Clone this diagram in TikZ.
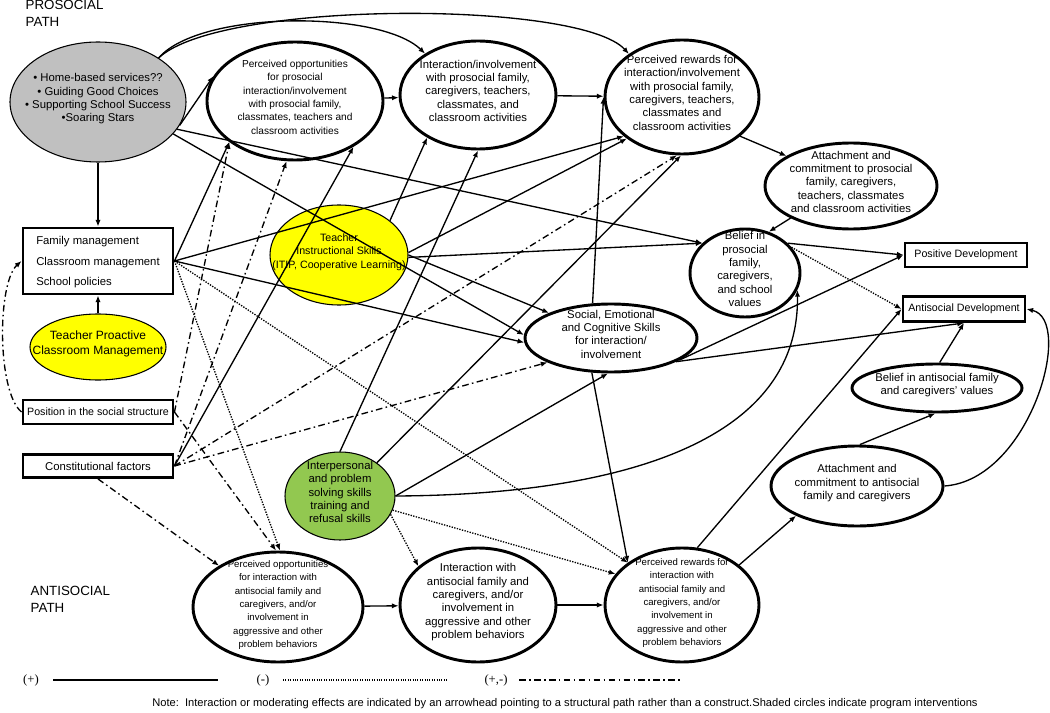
\documentclass[tikz,border=0pt]{standalone}
\usepackage{fontspec}
\setmainfont{Liberation Sans}
\newfontfamily\legendserif{Liberation Serif}
\usetikzlibrary{positioning,shapes.geometric,arrows.meta}
\definecolor{progray}{RGB}{192,192,192}
\definecolor{teachyellow}{RGB}{255,255,0}
\definecolor{skillgreen}{RGB}{146,200,80}
% text that does not widen the ellipse
\newcommand{\elltext}[1]{\raisebox{0pt}[0pt][0pt]{\makebox[0pt]{\begin{tabular}{@{}c@{}}#1\end{tabular}}}}

\begin{document}
\begin{tikzpicture}[x=0.75pt,y=-0.75pt,
  wh/.style 2 args={minimum width=#1*0.75pt,minimum height=#2*0.75pt},
  construct/.style={ellipse,draw,fill=white,line width=2.2pt,inner sep=0pt,font=\fontsize{8.5}{10}\selectfont},
  program/.style={ellipse,draw,line width=0.8pt,inner sep=0pt,font=\fontsize{8.5}{10}\selectfont},
  factor/.style={rectangle,draw,fill=white,line width=2.2pt,inner sep=0pt,font=\fontsize{8.5}{10}\selectfont},
  narrowtext/.style={font=\fontsize{7.2}{10}\selectfont},
  posline/.style={-{Latex[length=5pt,width=4pt]},line width=1pt},
  negline/.style={posline,densely dotted},
  mixline/.style={posline,dash pattern=on 5pt off 2.5pt on 1.2pt off 2.5pt},
]
\useasboundingbox (0,0) rectangle (1050,713);

% path labels
\node[anchor=base west,align=left,font=\fontsize{10}{12.75}\selectfont] (prolabel) at (21,27) {PROSOCIAL\\PATH};
\node[anchor=base west,align=left,font=\fontsize{10}{12.75}\selectfont] (antilabel) at (26,612) {ANTISOCIAL\\PATH};

% interventions
\node[program,fill=progray,wh={176}{120}] (prog) at (98,102) {\elltext{\textbullet\ Home-based services??\\\textbullet\ Guiding Good Choices\\\textbullet\ Supporting School Success\\\textbullet Soaring Stars}};
\node[program,fill=teachyellow,wh={138}{100},font=\fontsize{8}{10}\selectfont] (tis) at (339,255) {\elltext{Teacher\\Instructional Skills\\(ITIP, Cooperative Learning)}};
\node[program,fill=teachyellow,wh={136}{66},font=\fontsize{9}{11}\selectfont] (tpcm) at (98,347) {\elltext{Teacher Proactive\\Classroom Management}};
\node[program,fill=skillgreen,wh={110}{88}] (ips) at (340,496) {\elltext{Interpersonal\\and problem\\solving skills\\training and\\refusal skills}};

% external factors
\node[factor,wh={150}{66},font=\fontsize{8.5}{15.5}\selectfont] (fam) at (98,261) {\begin{tabular}{@{}l@{}}Family management\\Classroom management\\School policies\end{tabular}};
\node[factor,wh={150}{24},font=\fontsize{8}{10}\selectfont] (socpos) at (98,412) {Position in the social structure};
\node[factor,wh={150}{23}] (constf) at (98,466) {Constitutional factors};

% prosocial path
\node[construct,wh={176}{118},font=\fontsize{7.6}{10}\selectfont] (popp) at (295,101) {\elltext{Perceived opportunities\\for prosocial\\interaction/involvement\\with prosocial family,\\classmates, teachers and\\classroom activities}};
\node[construct,wh={156}{108}] (inter) at (478,95) {\elltext{Interaction/involvement\\with prosocial family,\\caregivers, teachers,\\classmates, and\\classroom activities}};
\node[construct,wh={154}{114}] (rew) at (682,97) {\elltext{Perceived rewards for\\interaction/involvement\\with prosocial family,\\caregivers, teachers,\\classmates and\\classroom activities}};
\node[construct,wh={172}{86}] (attach) at (851,186) {\elltext{Attachment and\\commitment to prosocial\\family, caregivers,\\teachers, classmates\\and classroom activities}};
\node[construct,wh={110}{88}] (belief) at (745,273) {\elltext{Belief in\\prosocial\\family,\\caregivers,\\and school\\values}};
\node[construct,wh={172}{68}] (sec) at (611,338) {\elltext{Social, Emotional\\and Cognitive Skills\\for interaction/\\involvement}};

% outcomes
\node[factor,wh={122}{24},font=\fontsize{8}{10}\selectfont] (posdev) at (966,255) {Positive Development};
\node[factor,wh={122}{25},font=\fontsize{8}{10}\selectfont] (antidev) at (964,309) {Antisocial Development};

% antisocial path
\node[construct,wh={170}{110},narrowtext] (oppanti) at (278,607) {\elltext{Perceived opportunities\\for interaction with\\antisocial family and\\caregivers, and/or\\involvement in\\aggressive and other\\problem behaviors}};
\node[construct,wh={156}{114}] (intanti) at (478,605) {\elltext{Interaction with\\antisocial family and\\caregivers, and/or\\involvement in\\aggressive and other\\problem behaviors}};
\node[construct,wh={154}{114},narrowtext] (rewanti) at (682,605) {\elltext{Perceived rewards for\\interaction with\\antisocial family and\\caregivers, and/or\\involvement in\\aggressive and other\\problem behaviors}};
\node[construct,wh={172}{80}] (attanti) at (857,486) {\elltext{Attachment and\\commitment to antisocial\\family and caregivers}};
\node[construct,wh={170}{48}] (belanti) at (937,388) {\elltext{Belief in antisocial family\\and caregivers’ values}};

% program effects
\draw[posline] (prog.south) -- (fam.north);
\draw[posline] (prog.-16) -- (popp.163);
\draw[posline] (prog.36) .. controls (200,10) and (380,10) .. (inter.142);
\draw[posline] (prog.36) .. controls (220,0) and (580,0) .. (rew.141);
\draw[posline] (prog.-19) -- (belief.145);
\draw[posline] (prog.-23) -- (sec.178);
\draw[posline] (tpcm) -- (fam);

% external factors
\draw[posline] (fam.east) -- (popp.212);
\draw[posline] (fam.east) -- (rew.214);
\draw[posline] (fam.east) -- (sec.183);
\draw[negline] (fam.east) -- (oppanti.88);
\draw[negline] (fam.east) -- (rewanti.142);
\draw[mixline] (socpos.west) .. controls (-3,392) and (-3,283) .. (fam.west);
\draw[mixline] (socpos.east) -- (popp.212);
\draw[mixline] (socpos.east) -- (oppanti.92);
\draw[mixline] (constf.east) -- (popp.262);
\draw[posline] (constf.east) -- (popp.-38);
\draw[mixline] (constf.south) -- (oppanti.145);
\draw[mixline] (constf.east) -- (sec.201);
\draw[mixline] (constf.east) -- (rew.265);

% teacher instructional skills
\draw[posline] (tis.34) -- (inter.220);
\draw[posline] (tis.2) -- (rew.217);
\draw[posline] (tis.0) -- (sec.158);
\draw[posline] (tis.-2) -- (belief.145);

% interpersonal skills
\draw[posline] (ips.north) -- (inter.south);
\draw[posline] (ips.42) -- (rew.269);
\draw[posline] (ips.east) -- (sec.265);
\draw[posline] (ips.east) .. controls (600,495) and (800,450) .. (belief.-18);
\draw[negline] (ips.-20) -- (intanti.147);
\draw[negline] (ips.-15) -- (rewanti.155);

% skills
\draw[posline] (sec.118) -- (rew.west);
\draw[posline] (sec.241) -- (rewanti.142);
\draw[posline] (sec.-18) -- (posdev.west);
\draw[posline] (sec.-20) -- (antidev.south);

% prosocial path
\draw[posline] (popp) -- (inter);
\draw[posline] (inter) -- (rew);
\draw[posline] (rew.-34) -- (attach.155);
\draw[posline] (attach.208) -- (belief.60);
\draw[posline] (belief.35) -- (posdev.west);
\draw[negline] (belief.29) -- (antidev.west);

% antisocial path
\draw[posline] (oppanti) -- (intanti);
\draw[posline] (intanti) -- (rewanti);
\draw[posline] (rewanti.35) -- (attanti.206);
\draw[posline] (rewanti.75) -- (antidev.west);
\draw[posline] (attanti.86) -- (belanti.266);
\draw[posline] (belanti.84) -- (antidev.south);
\draw[posline] (attanti.east) .. controls (1030,480) and (1075,320) .. (antidev.east);

% legend
\node[font=\legendserif\fontsize{9.5}{10}\selectfont] (lgplus) at (31,680) {(+)};
\node[font=\legendserif\fontsize{9.5}{10}\selectfont] (lgminus) at (263,680) {(-)};
\node[font=\legendserif\fontsize{9.5}{10}\selectfont] (lgmix) at (496,680) {(+,-)};
\coordinate (lgplusa) at (53,680);
\coordinate (lgplusb) at (218,680);
\coordinate (lgminusa) at (283,680);
\coordinate (lgminusb) at (448,680);
\coordinate (lgmixa) at (519,680);
\coordinate (lgmixb) at (683,680);
\draw[line width=0.8pt] (lgplusa) -- (lgplusb);
\draw[line width=0.8pt,densely dotted] (lgminusa) -- (lgminusb);
\draw[line width=0.8pt,dash pattern=on 5pt off 2.5pt on 1.2pt off 2.5pt] (lgmixa) -- (lgmixb);
\node[font=\fontsize{8.35}{10}\selectfont] (note) at (565,704) {Note:\ \ Interaction or moderating effects are indicated by an arrowhead pointing to a structural path rather than a construct.Shaded circles indicate program interventions};
\end{tikzpicture}
\end{document}
